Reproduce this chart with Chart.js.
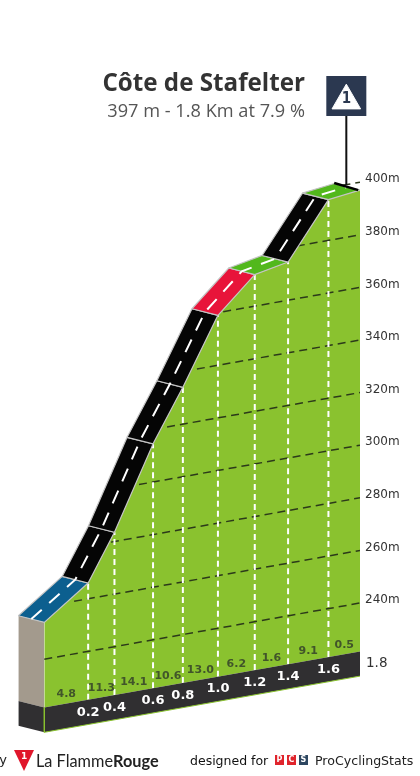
<!DOCTYPE html>
<html><head><meta charset="utf-8">
<script src="https://cdn.jsdelivr.net/npm/chart.js@4"></script>
<style>
html,body{margin:0;padding:0;background:#fff;width:420px;height:776px;overflow:hidden}
#wrap{position:relative;width:420px;height:776px}
canvas{position:absolute;left:0;top:0}
.t{position:absolute;white-space:nowrap;line-height:1}
</style></head><body>
<div id="wrap">
<canvas id="c" width="420" height="776"></canvas>
<div class="t" style="right:115px;top:65px;font:700 24.2px 'Open Sans';color:#333">Côte de Stafelter</div>
<div class="t" style="right:115px;top:98px;font:18.2px 'Open Sans';color:#555">397 m - 1.8 Km at 7.9 %</div>
<div class="t" style="left:-9px;top:752px;font:13px 'DejaVu Sans';color:#222">by</div>
<div style="position:absolute;left:14px;top:750px;width:20px;height:21px;background:#e0162b;clip-path:polygon(0 0,100% 0,50% 100%)"></div>
<div class="t" style="left:21px;top:751px;font:700 9px 'DejaVu Sans';color:#fff">1</div>
<div class="t" style="left:36px;top:751px;font:16.3px Lato;color:#222">La Flamme<b>Rouge</b></div>
<div class="t" style="left:190px;top:753px;font:12.5px 'DejaVu Sans';color:#111">designed for</div>
<div class="t" style="left:275px;top:755px;width:9px;height:10px;background:#e0242c;color:#fff;font:700 8px 'DejaVu Sans';text-align:center;line-height:10px">P</div>
<div class="t" style="left:287px;top:755px;width:9px;height:10px;background:#e0242c;color:#fff;font:700 8px 'DejaVu Sans';text-align:center;line-height:10px">C</div>
<div class="t" style="left:299px;top:755px;width:9px;height:10px;background:#2c4660;color:#fff;font:700 8px 'DejaVu Sans';text-align:center;line-height:10px">S</div>
<div class="t" style="left:315px;top:753px;font:12.6px 'DejaVu Sans';color:#222">ProCyclingStats</div>
</div>
<script>
// ---- values ----
const distanceKm = [0, 0.25, 0.40, 0.62, 0.79, 0.99, 1.20, 1.39, 1.62, 1.80];
const elevationM = [254, 266, 283.5, 314.5, 334, 359, 372, 374.5, 395.5, 397];
const gradientPct = ['4.8','11.3','14.1','10.6','13.0','6.2','1.6','9.1','0.5'];
const kmLabels = ['0.2','0.4','0.6','0.8','1.0','1.2','1.4','1.6'];
const segmentColors = ['#0c5f8f','#050505','#050505','#050505','#050505','#e8143a','#52b81c','#050505','#52b81c'];
const elevationTicks = [240,260,280,300,320,340,360,380,400];
const gridStartKm = [0.0, 0.17, 0.38, 0.54, 0.70, 0.87, 1.02, 1.44, 1.70];
const baseTopM = 221.6, baseBottomM = 212.2;

// oblique projection: level lines rise to the right, road has a depth
const SHEAR = 11.87, DEPTH_KM = 0.148, DEPTH_M = 2.5;
const lift = (km, m) => m - SHEAR * (1.8 - km);
const pt = (km, m) => ({x: km, y: lift(km, m)});
const back = (km, m) => ({x: km - DEPTH_KM, y: lift(km, m) + DEPTH_M});

const list = [];
const line = (data, o) => list.push(Object.assign({data, fill:false, borderWidth:0, pointRadius:0, tension:0}, o));
// region between an upper and a lower chain, both spanning the same x range
const region = (upper, lower, color, border, bw) => {
  line(upper, {fill:'+1', backgroundColor:color, borderColor:border||color, borderWidth:bw||0});
  line(lower, {borderColor:border||color, borderWidth:bw||0});
};
const last = distanceKm.length - 1;

// left side face
region([back(0,elevationM[0]), pt(0,elevationM[0])], [back(0,baseTopM), pt(0,baseTopM)], '#a39a8d');
region([back(0,baseTopM), pt(0,baseTopM)], [back(0,baseBottomM), pt(0,baseBottomM)], '#302f31');
// green face
region(distanceKm.map((k,i)=>pt(k,elevationM[i])), [pt(0,baseTopM), pt(1.8,baseTopM)], '#8ac22f');
// level lines
elevationTicks.forEach((m,i)=>line([pt(gridStartKm[i],m), pt(1.8,m)], {borderColor:'#2c3a1a', borderWidth:1.5, borderDash:[8,5]}));
// white km lines
for (let i=1;i<last;i++) line([pt(distanceKm[i],baseTopM), pt(distanceKm[i],elevationM[i])], {borderColor:'#fff', borderWidth:2, borderDash:[6,4]});
// distance band
region([pt(0,baseTopM), pt(1.8,baseTopM)], [pt(0,baseBottomM), pt(1.8,baseBottomM)], '#302f31');
line([pt(0,baseBottomM), pt(1.8,baseBottomM)], {borderColor:'#8ac22f', borderWidth:1});
line([pt(0,baseTopM), pt(0,baseBottomM)].map(p=>({x:p.x+0.0001,y:p.y})), {borderColor:'#8ac22f', borderWidth:1});
// road
segmentColors.forEach((col,i)=>{
  const a=distanceKm[i], b=distanceKm[i+1], ea=elevationM[i], eb=elevationM[i+1];
  region([back(a,ea), back(b,eb), pt(b,eb)], [back(a,ea), pt(a,ea), pt(b,eb)], col, '#c4c4c4', 1.2);
});
// centre line of the road
line(distanceKm.map((k,i)=>({x:k-DEPTH_KM/2, y:lift(k,elevationM[i])+DEPTH_M/2})), {borderColor:'#fff', borderWidth:2, borderDash:[14,10]});
// climb marker
line([{x:1.653,y:399.7},{x:1.79,y:397}], {borderColor:'#000', borderWidth:2.5});
line([{x:1.722,y:425.2},{x:1.722,y:398.9}], {borderColor:'#111', borderWidth:2});
line([{x:1.722,y:432.8}], {pointRadius:28.3, pointStyle:'rect', pointBackgroundColor:'#2b3850', pointBorderWidth:0, clip:false});
line([{x:1.722,y:431}], {pointRadius:16.5, pointStyle:'triangle', pointBackgroundColor:'#fff', pointBorderColor:'#fff', pointBorderWidth:1, clip:false});
list.forEach((d,i)=>d.order=-i);

const labels = {
  id:'labels',
  afterDatasetsDraw(ch){
    const {ctx, scales:{x,y}} = ch;
    ctx.save(); ctx.textAlign='center'; ctx.textBaseline='middle';
    ctx.font="bold 11px 'DejaVu Sans'"; ctx.fillStyle='#41552a';
    gradientPct.forEach((t,i)=>{
      const k=(distanceKm[i]+distanceKm[i+1])/2;
      ctx.fillText(t, x.getPixelForValue(k), y.getPixelForValue(lift(k,225.2)));
    });
    ctx.font="bold 13px 'DejaVu Sans'"; ctx.fillStyle='#fff';
    kmLabels.forEach((t,i)=>{
      const k=distanceKm[i+1];
      ctx.fillText(t, x.getPixelForValue(k), y.getPixelForValue(lift(k,216.9)));
    });
    ctx.font="13.5px 'DejaVu Sans'"; ctx.fillStyle='#333'; ctx.textAlign='left';
    ctx.fillText('1.8', x.getPixelForValue(1.8)+6, y.getPixelForValue(lift(1.8,216.9)));
    ctx.font="bold 15px 'DejaVu Sans Condensed','DejaVu Sans'"; ctx.fillStyle='#2b3850'; ctx.textAlign='center';
    ctx.fillText('1', x.getPixelForValue(1.722), y.getPixelForValue(431.6));
    ctx.restore();
  }
};

new Chart(document.getElementById('c'), {
  type:'line',
  data:{datasets:list},
  plugins:[labels],
  options:{
    responsive:false, animation:false, events:[],
    layout:{autoPadding:false, padding:{left:18,right:0,top:0,bottom:0}},
    plugins:{legend:{display:false}, tooltip:{enabled:false}},
    scales:{
      x:{type:'linear', display:false, min:-0.15, max:1.8},
      y:{type:'linear', position:'right', min:174.22, max:469.27,
        grid:{display:false, drawTicks:false}, border:{display:false},
        afterBuildTicks:a=>{a.ticks=elevationTicks.map(v=>({value:v}));},
        afterFit:a=>{a.width=60;a.paddingTop=0;a.paddingBottom=0;},
        ticks:{autoSkip:false, color:'#333', padding:5, labelOffset:-3, font:{family:"'DejaVu Sans'",size:12},
          callback:v=>v+'m'}}
    }
  }
});
</script>
</body></html>
